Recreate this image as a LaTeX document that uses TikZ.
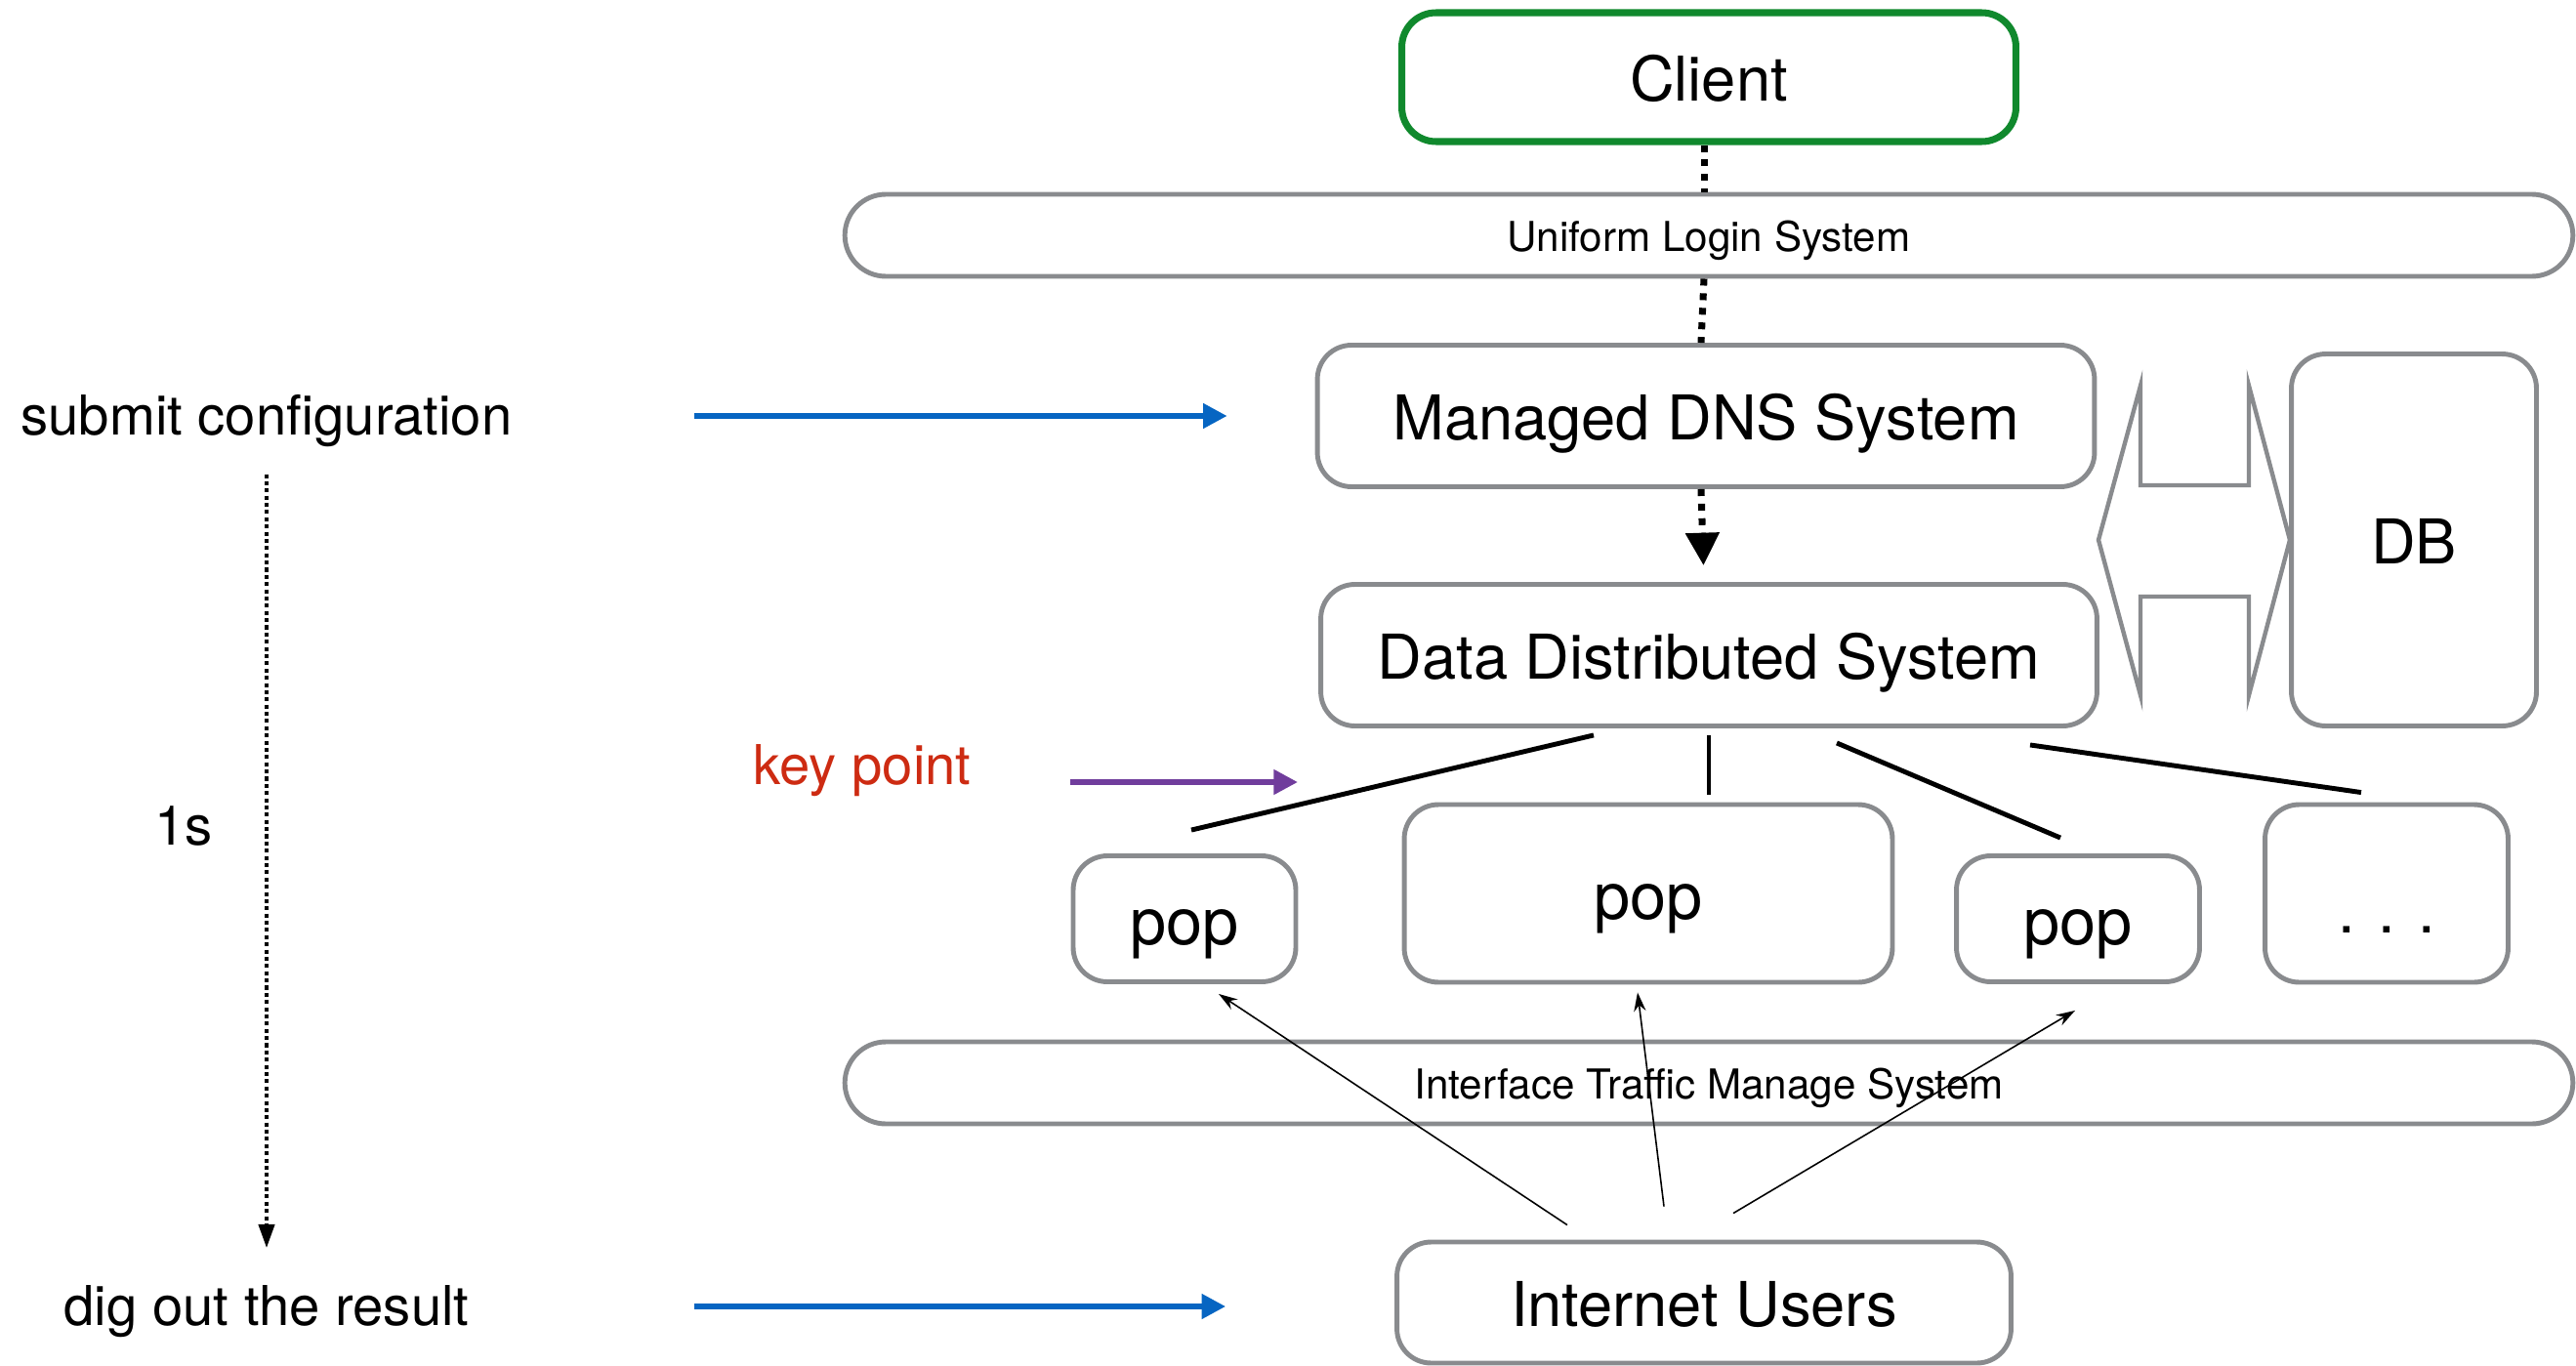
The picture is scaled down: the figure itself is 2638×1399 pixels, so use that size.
\documentclass[tikz,border=0pt]{standalone}
\usepackage{fontspec}
\setmainfont{TeX Gyre Heros}
\usetikzlibrary{arrows.meta}
\definecolor{boxgray}{RGB}{137,139,142}
\definecolor{clientgreen}{RGB}{16,137,45}
\definecolor{cfgblue}{RGB}{6,101,194}
\definecolor{keypurple}{RGB}{112,61,156}
\definecolor{keyred}{RGB}{205,43,18}
\begin{document}
\begin{tikzpicture}[x=0.02cm, y=-0.02cm,
  box/.style = {draw=boxgray, line width=2.8pt, rounded corners=0.7cm, inner sep=0pt, text height=36pt, text depth=7.6pt, font=\fontsize{36}{40}\selectfont},
  popbox/.style = {box, text height=38pt, text depth=8pt, font=\fontsize{38}{42}\selectfont},
  bar/.style = {draw=boxgray, line width=2.8pt, rounded corners=0.84cm, minimum width=35.4cm, minimum height=1.68cm, text height=24pt, text depth=5pt, font=\fontsize{24}{28}\selectfont},
  side/.style = {inner sep=0pt, text height=28.8pt, text depth=6.7pt, font=\fontsize{32}{36}\selectfont},
  link/.style = {line width=2.8pt},
  hop/.style = {line width=4pt, dash pattern=on 4pt off 4.5pt},
  feed/.style = {-{Stealth[length=11pt,width=7pt]}, line width=0.9pt},
  marker/.style = {line width=3.3pt, -{Triangle[length=14pt,width=14pt]}}
]
\useasboundingbox (0,0) rectangle (2638,1399);

% systems
\node[box, draw=clientgreen, line width=4pt, minimum width=12.58cm, minimum height=2.64cm] (client) at (1750,79) {Client};
\node[bar] (uls) at (1750,241) {Uniform Login System};
\node[box, minimum width=15.92cm, minimum height=2.9cm] (mdns) at (1747,426) {Managed DNS System};
\node[box, minimum width=15.9cm, minimum height=2.9cm] (dds) at (1750,671) {Data Distributed System};
\node[box, minimum width=5.02cm, minimum height=7.62cm] (db) at (2472,553) {DB};

% pops
\node[popbox, minimum width=4.56cm, minimum height=2.58cm] (pop1) at (1213,941) {pop};
\node[popbox, minimum width=10cm, minimum height=3.64cm] (pop2) at (1688,915) {pop};
\node[popbox, minimum width=4.98cm, minimum height=2.58cm] (pop3) at (2128,941) {pop};
\node[box, minimum width=4.98cm, minimum height=3.64cm, text height=46pt, text depth=0pt] (more) at (2444,915) {. . .};

\node[bar] (its) at (1750,1109) {Interface Traffic Manage System};
\node[box, minimum width=12.58cm, minimum height=2.48cm] (users) at (1745,1334) {Internet Users};

% left side
\node[side] (submit) at (273,426) {submit configuration};
\node[side] (dig) at (273,1338) {dig out the result};
\node[side] (time) at (188,846) {1s};
\node[side, text=keyred] (key) at (883,784) {key point};
\coordinate (kp) at (1329,801);

% double arrow to DB
\draw[boxgray, line width=2.5pt, fill=white, line join=miter]
  (2149,553) -- (2192,395) -- (2192,497) -- (2303,497) -- (2303,395) -- (2345,553)
  -- (2303,712) -- (2303,611) -- (2192,611) -- (2192,712) -- cycle;

% dotted hops
\draw[hop] ([xshift=-0.1cm]client.south) -- ([xshift=-0.1cm]uls.north);
\draw[hop] ([xshift=-0.1cm]uls.south) -- ([xshift=-0.1cm]mdns.north);
\draw[hop, -{Triangle[length=19pt,width=19pt]}, shorten >=0.34cm] ([xshift=-0.1cm]mdns.south) -- ([xshift=-0.1cm]dds.north);

% distribution
\draw[link] ([shift={(-118,7)}]dds.south) -- ([shift={(7,-24)}]pop1.north);
\draw[link] ([shift={(0,7)}]dds.south) -- ([shift={(62,-8)}]pop2.north);
\draw[link] ([shift={(131,15)}]dds.south) -- ([shift={(-18,-16)}]pop3.north);
\draw[link] ([shift={(329,17)}]dds.south) -- ([shift={(-26,-10)}]more.north);

% user traffic
\draw[feed] ([shift={(-140,-15)}]users.north) -- ([shift={(35,10)}]pop1.south);
\draw[feed] ([shift={(-41,-34)}]users.north) -- ([shift={(-11,8)}]pop2.south);
\draw[feed] ([shift={(30,-27)}]users.north) -- ([shift={(-3,27)}]pop3.south);

% timeline
\draw[marker, cfgblue, shorten <=3.72cm, shorten >=1.8cm] (submit.east) -- (submit.east -| mdns.west);
\draw[marker, cfgblue, shorten <=4.6cm, shorten >=3.46cm] (dig.east) -- (dig.east -| users.west);
\draw[marker, keypurple, shorten <=2.02cm] (key.east |- kp) -- (kp);
\draw[line width=2.7pt, dash pattern=on 2.3pt off 1.9pt, -{Triangle[length=14pt,width=9pt]}, shorten <=0.56cm, shorten >=0.56cm] (submit.south) -- (dig.north);
\end{tikzpicture}
\end{document}
